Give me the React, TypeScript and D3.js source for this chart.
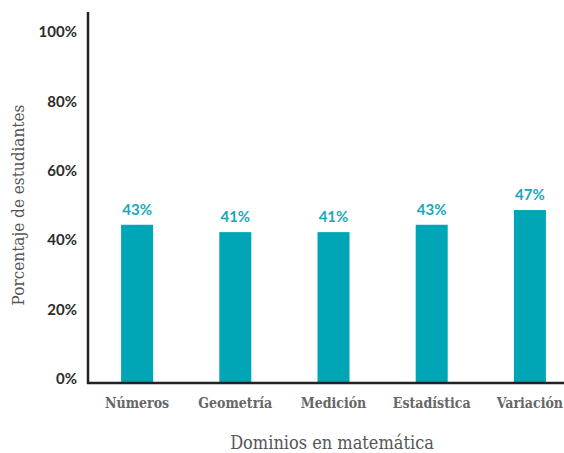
import { useRef, useEffect } from 'react';
import * as d3 from 'd3';

const categories = ['Números', 'Geometría', 'Medición', 'Estadística', 'Variación'];
const values = [43, 41, 41, 43, 47];
const yTicks = [0, 20, 40, 60, 80, 100];

const serif = '"DejaVu Serif Condensed", "DejaVu Serif", serif';

export default function App() {
    const svgRef = useRef<SVGSVGElement>(null);

    useEffect(() => {
        if (!svgRef.current) return;
        const width = 564;
        const height = 453;

        const svg = d3.select(svgRef.current);
        svg.selectAll('*').remove();
        svg.attr('width', width).attr('height', height);

        const axisX = 88;
        const baseY = 383;

        const x = d3.scaleBand<string>()
            .domain(categories)
            .range([axisX, 579])
            .paddingInner(0.674)
            .paddingOuter(0.337);

        const y = d3.scaleLinear().domain([0, 100]).range([baseY, 15]);
        // tick labels sit on their own spacing in the original
        const yLabel = d3.scaleLinear().domain([0, 100]).range([379, 32]);

        const data = categories.map((c, i) => ({ c, v: values[i] }));

        // Bars
        svg.append('g')
            .selectAll('rect')
            .data(data)
            .enter()
            .append('rect')
            .attr('x', d => x(d.c) ?? 0)
            .attr('y', d => y(d.v))
            .attr('width', x.bandwidth())
            .attr('height', d => baseY - y(d.v))
            .attr('fill', '#00a6b6');

        // Value labels
        svg.append('g')
            .selectAll('text')
            .data(data)
            .enter()
            .append('text')
            .attr('x', d => (x(d.c) ?? 0) + x.bandwidth() / 2)
            .attr('y', d => y(d.v) - 10)
            .attr('text-anchor', 'middle')
            .attr('font-family', 'Lato, sans-serif')
            .attr('font-weight', '700')
            .attr('font-size', '15px')
            .attr('fill', '#1aa7b8')
            .text(d => `${d.v}%`);

        // Y tick labels
        svg.append('g')
            .selectAll('text')
            .data(yTicks)
            .enter()
            .append('text')
            .attr('x', 77)
            .attr('y', d => yLabel(d))
            .attr('dy', '0.35em')
            .attr('text-anchor', 'end')
            .attr('font-family', 'Lato, sans-serif')
            .attr('font-weight', '700')
            .attr('font-size', '15px')
            .attr('fill', '#2b2b2b')
            .text(d => `${d}%`);

        // Category labels
        svg.append('g')
            .selectAll('text')
            .data(categories)
            .enter()
            .append('text')
            .attr('x', d => (x(d) ?? 0) + x.bandwidth() / 2)
            .attr('y', 403)
            .attr('dy', '0.35em')
            .attr('text-anchor', 'middle')
            .attr('font-family', serif)
            .attr('font-weight', '700')
            .attr('font-size', '14px')
            .attr('fill', '#666')
            .text(d => d);

        // Axis lines
        svg.append('line')
            .attr('x1', axisX).attr('x2', axisX)
            .attr('y1', 12).attr('y2', baseY + 1)
            .attr('stroke', '#222').attr('stroke-width', 2.5);
        svg.append('line')
            .attr('x1', axisX - 1).attr('x2', width)
            .attr('y1', baseY).attr('y2', baseY)
            .attr('stroke', '#222').attr('stroke-width', 2.5);

        // Axis titles
        svg.append('text')
            .attr('x', 332)
            .attr('y', 443)
            .attr('dy', '0.35em')
            .attr('text-anchor', 'middle')
            .attr('font-family', serif)
            .attr('font-size', '18px')
            .attr('fill', '#555')
            .text('Dominios en matemática');

        svg.append('text')
            .attr('transform', 'translate(18,205) rotate(-90)')
            .attr('dy', '0.35em')
            .attr('text-anchor', 'middle')
            .attr('font-family', serif)
            .attr('font-size', '17px')
            .attr('fill', '#555')
            .text('Porcentaje de estudiantes');
    }, []);

    return (
        <div style={{ position: 'fixed', left: 0, top: 0, background: '#fff' }}>
            <svg ref={svgRef} style={{ display: 'block' }} />
        </div>
    );
}
